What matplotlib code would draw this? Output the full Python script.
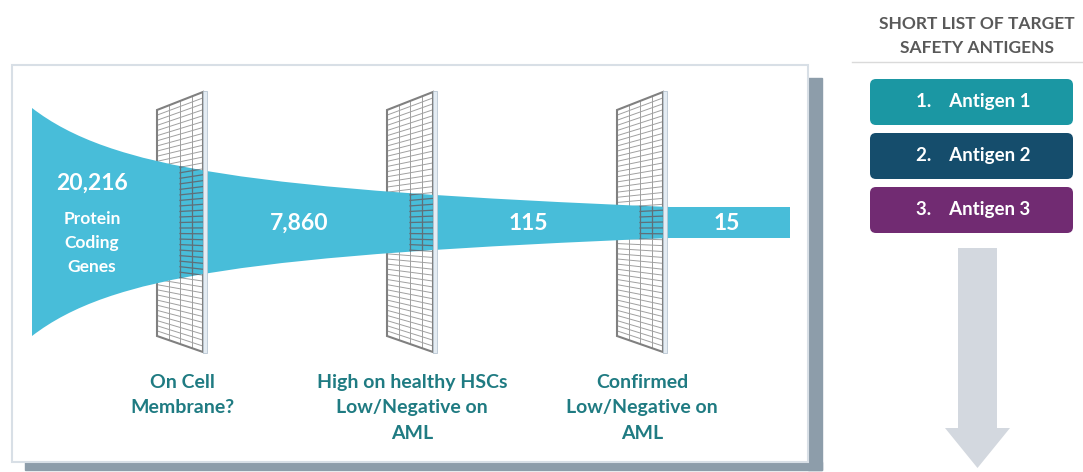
import matplotlib.pyplot as plt
from matplotlib.patches import Rectangle, Polygon, FancyBboxPatch, PathPatch
from matplotlib.path import Path

plt.rcParams['font.family'] = ['Lato', 'DejaVu Sans']

# data
counts = ['20,216', '7,860', '115', '15']
count_note = 'Protein\nCoding\nGenes'
filters = ['On Cell\nMembrane?',
           'High on healthy HSCs\nLow/Negative on\nAML',
           'Confirmed\nLow/Negative on\nAML']
list_title = 'SHORT LIST OF TARGET\nSAFETY ANTIGENS'
antigens = ['1.    Antigen 1', '2.    Antigen 2', '3.    Antigen 3']

# styles
funnel_color = '#48bdd9'
teal_text = '#1f7b82'
antigen_colors = ['#1b97a3', '#154d6c', '#712b72']
grid_left = [157, 387, 617]
count_x = [92, 299, 528, 727]

fig = plt.figure(figsize=(10.83, 4.72), dpi=100)
ax = fig.add_axes([0, 0, 1, 1])
ax.set_xlim(0, 1083)
ax.set_ylim(472, 0)
ax.axis('off')

# panel + shadow
ax.add_patch(Rectangle((808, 78), 14, 392, color='#8d9daa', zorder=0))
ax.add_patch(Rectangle((25, 462), 797, 8, color='#8d9daa', zorder=0))
ax.add_patch(Rectangle((12, 65), 796, 397, facecolor='white', edgecolor='#d8dfe6', lw=1.5, zorder=1))

# funnel shape
verts = [(32, 108), (110, 168), (250, 190), (670, 207),
         (790, 207), (790, 238), (670, 238),
         (250, 255), (110, 276), (32, 336), (32, 108)]
codes = [Path.MOVETO, Path.CURVE4, Path.CURVE4, Path.CURVE4,
         Path.LINETO, Path.LINETO, Path.LINETO,
         Path.CURVE4, Path.CURVE4, Path.CURVE4, Path.CLOSEPOLY]
funnel = PathPatch(Path(verts, codes), facecolor=funnel_color, edgecolor='none', zorder=3)
ax.add_patch(funnel)

W = 46
nrows = 44
ncols = 4


def grid_lines(x0, s_from, color, lw, z, clip=None):
    lines = []
    for i in range(1, nrows):
        t = i / nrows
        yl = 110 + t * 226
        yr = 92 + t * 260
        xa = x0 + s_from * W
        ya = yl + s_from * (yr - yl)
        lines.append(ax.plot([xa, x0 + W], [ya, yr], color=color, lw=lw, zorder=z)[0])
    for j in range(ncols + 1):
        s = j / ncols
        if s < s_from:
            continue
        x = x0 + s * W
        lines.append(ax.plot([x, x], [110 - 18 * s, 336 + 16 * s], color=color, lw=lw, zorder=z)[0])
    if clip is not None:
        for ln in lines:
            ln.set_clip_path(clip)


for x0 in grid_left:
    grid_lines(x0, 0, '#a0a0a0', 0.7, 2)
    frame = Polygon([(x0, 110), (x0 + W, 92), (x0 + W, 352), (x0, 336)],
                    closed=True, fill=False, edgecolor='#808080', lw=1.5, zorder=2)
    ax.add_patch(frame)
    grid_lines(x0, 0.5, '#5f6f78', 0.9, 4, clip=funnel)
    ax.add_patch(Rectangle((x0 + W, 91), 4, 262, facecolor='#e4ecf3', edgecolor='#b8c6d2', lw=0.6, zorder=5))

# counts
for i, c in enumerate(counts):
    y = 183 if i == 0 else 223
    ax.text(count_x[i], y, c, color='white', fontsize=16.5, fontweight='bold',
            ha='center', va='center', zorder=6)
ax.text(count_x[0], 243, count_note, color='white', fontsize=12.5, fontweight='bold',
        ha='center', va='center', linespacing=1.6, zorder=6)

# filter labels
for x0, lab in zip(grid_left, filters):
    ax.text(x0 + 25, 374, lab, color=teal_text, fontsize=14, fontweight='bold',
            ha='center', va='top', linespacing=1.6, zorder=6)

# right side list
ax.text(977, 36, list_title, color='#595959', fontsize=12.5, fontweight='bold',
        ha='center', va='center', linespacing=1.55)
ax.plot([852, 1083], [62, 62], color='#dadada', lw=1)
for k, (name, col) in enumerate(zip(antigens, antigen_colors)):
    y0 = 79 + k * 54
    ax.add_patch(FancyBboxPatch((870, y0), 203, 46, boxstyle='round,pad=0,rounding_size=6',
                                facecolor=col, edgecolor='none'))
    ax.text(973, y0 + 23, name, color='white', fontsize=13.5, fontweight='bold',
            ha='center', va='center')

ax.add_patch(Polygon([(958, 248), (997, 248), (997, 428), (1010, 428),
                      (977.5, 468), (945, 428), (958, 428)],
                     closed=True, facecolor='#d3d8df', edgecolor='none'))

fig.savefig('out.png', dpi=100)
